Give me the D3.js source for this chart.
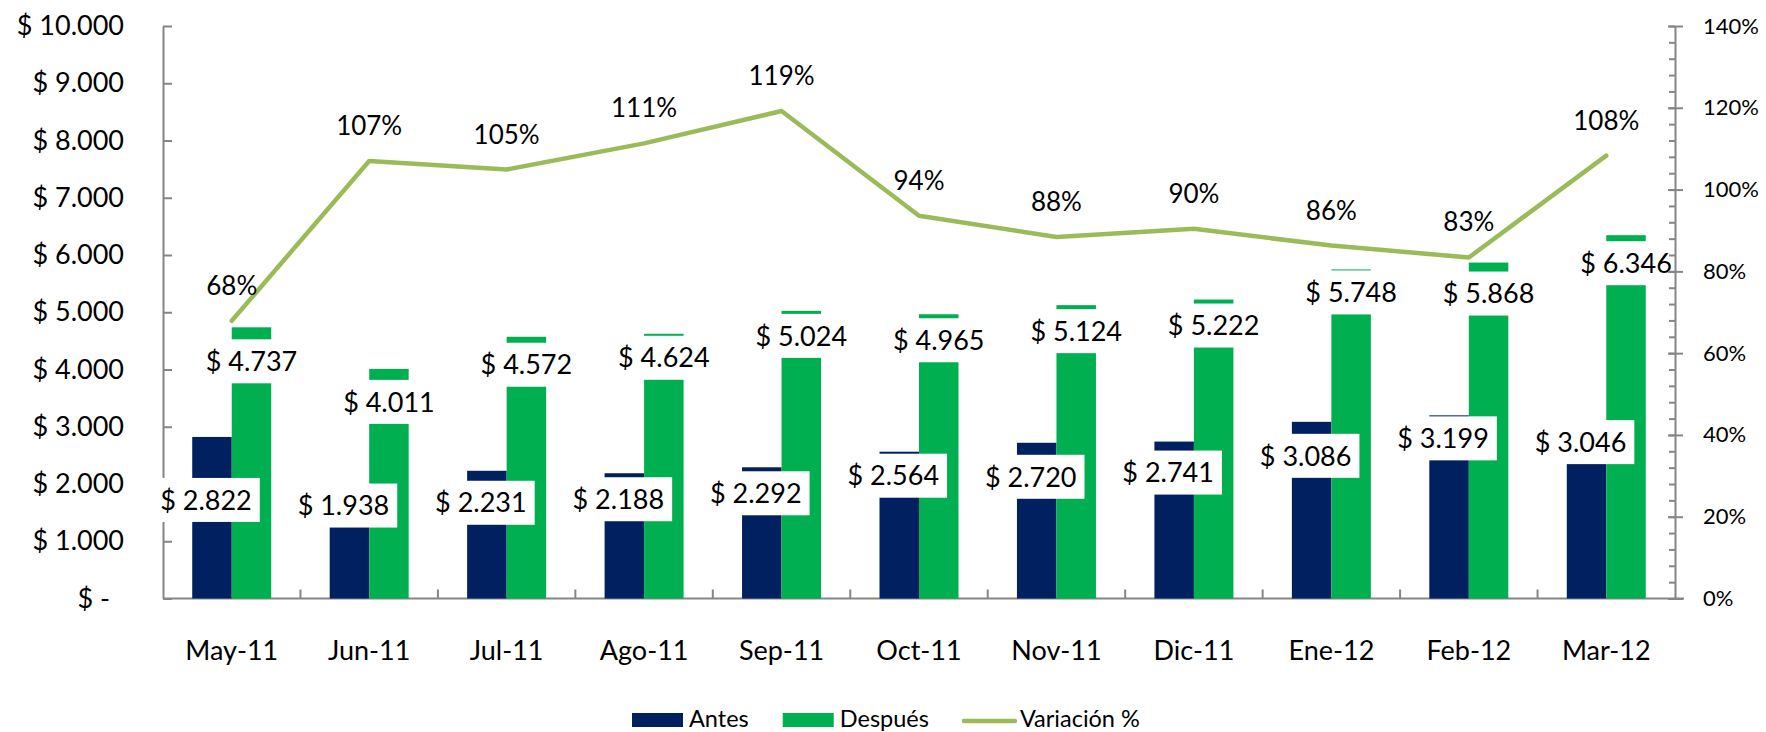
<!DOCTYPE html>
<html>
<head>
<meta charset="utf-8">
<script src="https://cdn.jsdelivr.net/npm/d3@7"></script>
<style>
  body { margin: 0; background: #fff; }
  text { font-family: Lato, "Open Sans", sans-serif; fill: #000; }
</style>
</head>
<body>
<div class="chart"></div>
<script>
// Data
var categories = ["May-11", "Jun-11", "Jul-11", "Ago-11", "Sep-11", "Oct-11",
                  "Nov-11", "Dic-11", "Ene-12", "Feb-12", "Mar-12"];
var antes = [2822, 1938, 2231, 2188, 2292, 2564, 2720, 2741, 3086, 3199, 3046];
var despues = [4737, 4011, 4572, 4624, 5024, 4965, 5124, 5222, 5748, 5868, 6346];
var variacion = [67.9, 107.0, 104.9, 111.3, 119.2, 93.6, 88.4, 90.4, 86.3, 83.4, 108.3];
var leftTicks = [0, 1000, 2000, 3000, 4000, 5000, 6000, 7000, 8000, 9000, 10000];
var rightTicks = [0, 20, 40, 60, 80, 100, 120, 140];
var seriesNames = ["Antes", "Después", "Variación %"];

// label box nudges (px below the bar top), as placed in the original
var antesLabelDy = [41, -4, 10, 4, 4, 2, 12, 9, 12, 1, -4];
var despuesLabelDy = [12, 11, 6, 2, 3, 4, 4, 4, 1, 9, 6];

// Define SVG area dimensions
var svgWidth = 1766;
var svgHeight = 732;

var margin = { top: 26, right: 91, bottom: 133.5, left: 163 };
var width = svgWidth - margin.left - margin.right;
var height = svgHeight - margin.top - margin.bottom;

var colorAntes = "#002060";
var colorDespues = "#00B050";
var colorLine = "#9BBB59";
var axisColor = "#868686";

var locale = d3.formatLocale({ decimal: ",", thousands: ".", grouping: [3], currency: ["$ ", ""] });
var money = locale.format("$,.0f");

var svg = d3.select(".chart")
  .append("svg")
  .attr("width", svgWidth)
  .attr("height", svgHeight);

var chartGroup = svg.append("g")
  .attr("transform", `translate(${margin.left}, ${margin.top})`);

// Scales
var x0 = d3.scaleBand()
  .domain(categories)
  .range([0, width])
  .padding(0);

var x1 = d3.scaleBand()
  .domain(["antes", "despues"])
  .range([0, x0.bandwidth()])
  .paddingInner(0)
  .paddingOuter(0.74);

var yLeft = d3.scaleLinear().domain([0, 10000]).range([height, 0]);
var yRight = d3.scaleLinear().domain([0, 140]).range([height, 0]);

// Left axis
var leftAxis = d3.axisLeft(yLeft)
  .tickValues(leftTicks)
  .tickSizeInner(-9)
  .tickSizeOuter(0)
  .tickPadding(39)
  .tickFormat(d => d === 0 ? "$ -" : money(d));

var gLeft = chartGroup.append("g").call(leftAxis);
gLeft.select(".domain").attr("stroke", axisColor).attr("stroke-width", 2);
gLeft.selectAll(".tick line").attr("stroke", axisColor).attr("stroke-width", 2);
gLeft.selectAll(".tick text")
  .attr("font-size", "27px")
  .attr("font-family", "Lato")
  .attr("dx", d => d === 0 ? -14 : 0);

// Category axis
var bottomAxis = d3.axisBottom(x0).tickSize(0).tickSizeOuter(0);
var gBottom = chartGroup.append("g")
  .attr("transform", `translate(0, ${height})`)
  .call(bottomAxis);
gBottom.select(".domain").attr("stroke", axisColor).attr("stroke-width", 2)
  .attr("d", `M0,0H${width + 9}`);
gBottom.selectAll(".tick text")
  .attr("dy", null)
  .attr("y", 61.5)
  .attr("font-size", "27px")
  .attr("font-family", "Lato");

// category boundary ticks (pointing up)
gBottom.selectAll(".bound")
  .data(categories.slice(1))
  .enter()
  .append("line")
  .attr("class", "bound")
  .attr("x1", d => x0(d))
  .attr("x2", d => x0(d))
  .attr("y1", 0)
  .attr("y2", -9)
  .attr("stroke", axisColor)
  .attr("stroke-width", 2);

// Bars
var rows = categories.map((c, i) => ({ cat: c, antes: antes[i], despues: despues[i], v: variacion[i], i: i }));

chartGroup.selectAll(".bar-antes")
  .data(rows)
  .enter()
  .append("rect")
  .attr("class", "bar-antes")
  .attr("x", d => x0(d.cat) + x1("antes"))
  .attr("y", d => yLeft(d.antes))
  .attr("width", x1.bandwidth())
  .attr("height", d => height - yLeft(d.antes))
  .attr("fill", colorAntes);

chartGroup.selectAll(".bar-despues")
  .data(rows)
  .enter()
  .append("rect")
  .attr("class", "bar-despues")
  .attr("x", d => x0(d.cat) + x1("despues"))
  .attr("y", d => yLeft(d.despues))
  .attr("width", x1.bandwidth())
  .attr("height", d => height - yLeft(d.despues))
  .attr("fill", colorDespues);

// Line
var line = d3.line()
  .x(d => x0(d.cat) + x0.bandwidth() / 2)
  .y(d => yRight(d.v));

chartGroup.append("path")
  .datum(rows)
  .attr("d", line)
  .attr("fill", "none")
  .attr("stroke", colorLine)
  .attr("stroke-width", 4.5)
  .attr("stroke-linejoin", "round")
  .attr("stroke-linecap", "round");

chartGroup.selectAll(".var-label")
  .data(rows)
  .enter()
  .append("text")
  .attr("class", "var-label")
  .attr("x", d => x0(d.cat) + x0.bandwidth() / 2)
  .attr("y", d => yRight(d.v) - 26)
  .attr("text-anchor", "middle")
  .attr("font-size", "26px")
  .text(d => Math.round(d.v) + "%");

// Data labels with white boxes
function addLabels(key, nudges, shift) {
  var g = chartGroup.selectAll(".lbl-" + key)
    .data(rows)
    .enter()
    .append("g")
    .attr("class", "lbl-" + key);

  var boxH = 44;
  g.each(function(d) {
    var cx = x0(d.cat) + x1(key) + x1.bandwidth() / 2 + shift;
    var top = yLeft(d[key]) + nudges[d.i];
    var grp = d3.select(this);
    var rect = grp.append("rect").attr("fill", "#fff");
    var t = grp.append("text")
      .attr("x", cx)
      .attr("y", top + boxH / 2)
      .attr("dy", "0.36em")
      .attr("text-anchor", "middle")
      .attr("font-size", "27px")
      .text(money(d[key]));
    var w = t.node().getComputedTextLength() + 16;
    rect.attr("x", cx - w / 2).attr("y", top).attr("width", w).attr("height", boxH);
  });
}
addLabels("antes", antesLabelDy, -6);
addLabels("despues", despuesLabelDy, 0);

// Right axis (drawn last so label boxes do not hide it)
var minorAxis = d3.axisRight(yRight)
  .tickValues(d3.range(0, 141, 4))
  .tickSizeInner(-6)
  .tickSizeOuter(0)
  .tickFormat("");

var gMinor = chartGroup.append("g")
  .attr("transform", `translate(${width}, 0)`)
  .call(minorAxis);
gMinor.select(".domain").attr("stroke", axisColor).attr("stroke-width", 2);
gMinor.selectAll(".tick line").attr("stroke", axisColor).attr("stroke-width", 2);

var rightAxis = d3.axisRight(yRight)
  .tickValues(rightTicks)
  .tickSizeInner(8)
  .tickSizeOuter(0)
  .tickPadding(20)
  .tickFormat(d => d + "%");

var gRight = chartGroup.append("g")
  .attr("transform", `translate(${width}, 0)`)
  .call(rightAxis);
gRight.select(".domain").remove();
gRight.selectAll(".tick line")
  .attr("x1", -7)
  .attr("stroke", axisColor).attr("stroke-width", 2);
gRight.selectAll(".tick text")
  .attr("font-size", "22px")
  .attr("font-family", "Lato");

// Legend
var legend = svg.append("g").attr("transform", "translate(632, 0)");
var lx = 0;
seriesNames.forEach(function(name, i) {
  if (i < 2) {
    legend.append("rect")
      .attr("x", lx).attr("y", 713)
      .attr("width", 51).attr("height", 14)
      .attr("fill", i === 0 ? colorAntes : colorDespues);
  } else {
    legend.append("line")
      .attr("x1", lx + 1).attr("x2", lx + 52)
      .attr("y1", 721).attr("y2", 721)
      .attr("stroke", colorLine)
      .attr("stroke-width", 4.5)
      .attr("stroke-linecap", "round");
  }
  var t = legend.append("text")
    .attr("x", lx + 57)
    .attr("y", 727)
    .attr("font-size", "23.5px")
    .text(name);
  lx += 57 + t.node().getComputedTextLength() + 34;
});
</script>
</body>
</html>
